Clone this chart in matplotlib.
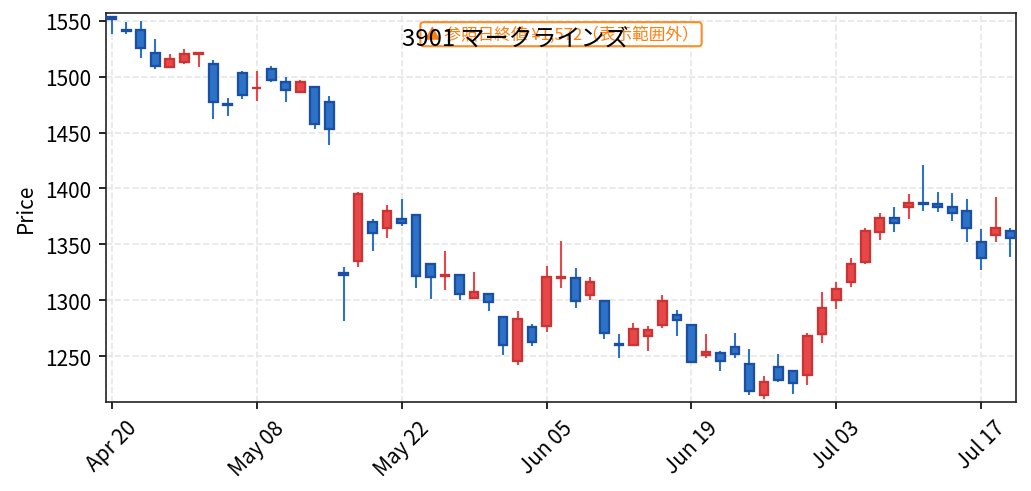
import numpy as np
import matplotlib
matplotlib.use('Agg')
import matplotlib.pyplot as plt

plt.rcParams['font.family'] = ['Noto Sans CJK JP', 'DejaVu Sans']

# daily OHLC, 63 trading days (Apr 20 - Jul 22)
opens = [1553, 1542, 1542, 1521, 1509, 1513, 1520, 1511, 1476, 1503,
         1489.5, 1507, 1495, 1486, 1491, 1477, 1324, 1335, 1370, 1365,
         1373, 1376, 1332, 1322, 1323, 1302, 1306, 1285, 1246, 1276,
         1277, 1320, 1320, 1305, 1299, 1261, 1260, 1268, 1278, 1287,
         1278, 1251, 1253, 1258, 1243, 1215, 1240, 1237, 1233, 1270,
         1300, 1316, 1334, 1361, 1374, 1383, 1387, 1386, 1383, 1380,
         1352, 1358, 1362]
highs = [1554, 1549, 1550, 1534, 1520, 1525, 1521, 1515, 1481, 1505,
         1505, 1510, 1500, 1497, 1491, 1483, 1330, 1397, 1373, 1385,
         1391, 1376, 1332, 1344, 1323, 1325, 1306, 1285, 1290, 1279,
         1331, 1353, 1329, 1321, 1299, 1270, 1280, 1277, 1305, 1291,
         1278, 1270, 1255, 1271, 1256, 1232, 1252, 1237, 1271, 1307,
         1316, 1338, 1365, 1378, 1383, 1395, 1421, 1397, 1396, 1391,
         1364, 1392, 1365]
lows = [1538, 1538, 1517, 1507, 1508, 1511, 1509, 1462, 1465, 1480,
        1478, 1495, 1477, 1486, 1453, 1439, 1281, 1330, 1344, 1356,
        1366, 1311, 1301, 1309, 1300, 1302, 1290, 1251, 1242, 1259,
        1272, 1311, 1293, 1300, 1265, 1248, 1260, 1255, 1275, 1268,
        1245, 1248, 1237, 1248, 1215, 1212, 1227, 1216, 1224, 1262,
        1292, 1312, 1332, 1354, 1361, 1373, 1380, 1379, 1371, 1352,
        1327, 1352, 1339]
closes = [1552, 1540.5, 1526, 1510, 1516, 1520, 1521, 1477, 1474.5, 1484,
          1490, 1497, 1488, 1495, 1458, 1453, 1323, 1395, 1360, 1380,
          1369, 1322, 1321, 1322.5, 1306, 1307, 1298, 1260, 1283, 1263,
          1321, 1321, 1299, 1316, 1271, 1260, 1274, 1273, 1299, 1282,
          1245, 1254, 1246, 1252, 1219, 1227, 1229, 1226, 1268, 1293,
          1310, 1332, 1362, 1374, 1369, 1387, 1386, 1383, 1378, 1365,
          1338, 1365, 1356]

tick_pos = [0, 10, 20, 30, 40, 50, 60]
tick_labels = ['Apr 20', 'May 08', 'May 22', 'Jun 05', 'Jun 19', 'Jul 03', 'Jul 17']

title = '3901 マークラインズ'
note = '▲ 参照日終値 ¥1,572（表示範囲外）'

up_fill, up_edge = '#e8474a', '#cc3333'
dn_fill, dn_edge = '#2c72c7', '#1a4fa3'

fig = plt.figure(figsize=(1031 / 150, 492 / 150), dpi=150)
ax = fig.add_axes([0.1028, 0.181, 0.8827, 0.7905])

x = np.arange(len(opens))
o = np.array(opens)
c = np.array(closes)
up = c >= o
bottom = np.minimum(o, c)
height = np.abs(c - o)

ax.vlines(x[up], np.array(lows)[up], np.array(highs)[up], color=up_fill, lw=1.0, zorder=2)
ax.vlines(x[~up], np.array(lows)[~up], np.array(highs)[~up], color=dn_fill, lw=1.0, zorder=2)
ax.bar(x[up], height[up], 0.6, bottom=bottom[up], color=up_fill,
       edgecolor=up_edge, linewidth=1.1, zorder=3)
ax.bar(x[~up], height[~up], 0.6, bottom=bottom[~up], color=dn_fill,
       edgecolor=dn_edge, linewidth=1.1, zorder=3)

ax.set_xlim(-0.4, 62.4)
ax.set_ylim(1209, 1557)
ax.set_xticks(tick_pos)
ax.set_xticklabels(tick_labels, rotation=45)
ax.set_ylabel('Price')
ax.grid(True, linestyle='--', color='#e6e6e6', linewidth=0.8, zorder=0)
ax.set_axisbelow(True)
for s in ax.spines.values():
    s.set_color('#222222')

ax.text(0.5, 0.968, note, transform=ax.transAxes, ha='center', va='top',
        fontsize=8, color='#ff7f0e',
        bbox=dict(boxstyle='round,pad=0.2', fc='white', ec='#ff7f0e', alpha=0.9))
fig.text(0.5, 0.919, title, ha='center', va='center', fontsize=11.5)

fig.savefig('out.png', dpi=150)
